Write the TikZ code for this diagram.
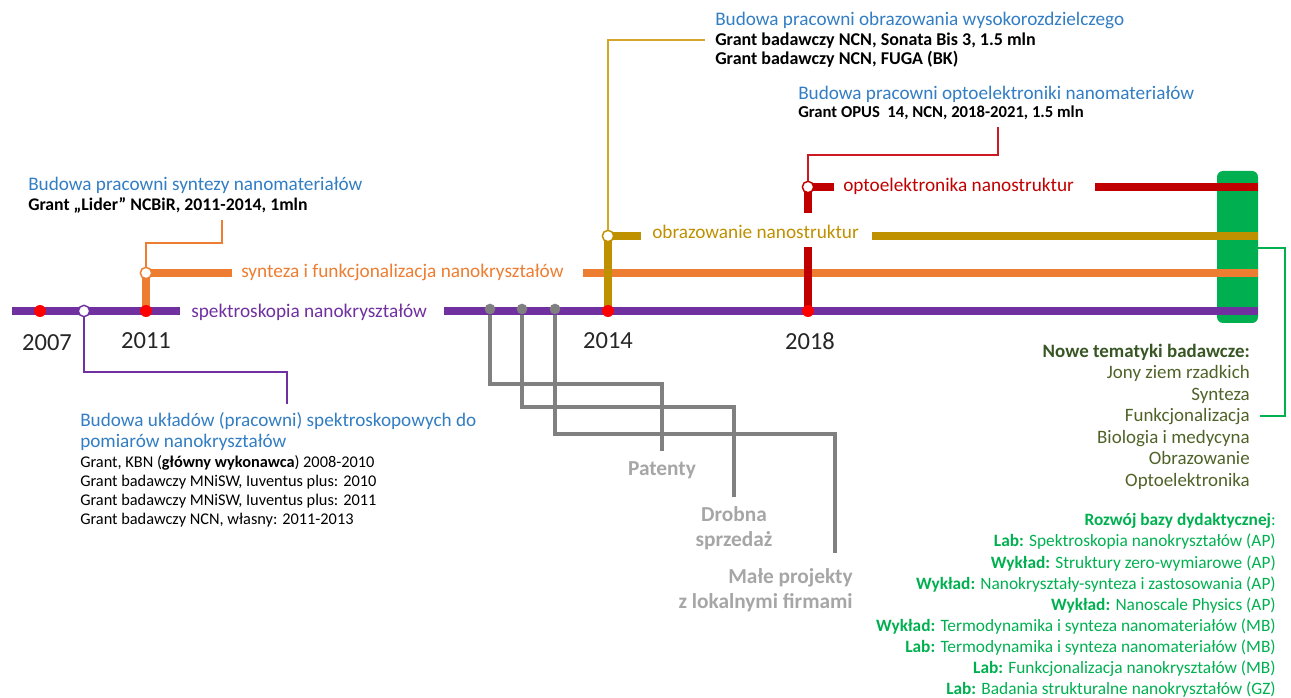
\documentclass[tikz,border=0pt]{standalone}
\usepackage{fontspec}
\setmainfont{Carlito}
\usetikzlibrary{positioning}
\definecolor{cpurple}{RGB}{112,48,160}
\definecolor{corange}{RGB}{237,125,49}
\definecolor{cgold}{RGB}{191,144,0}
\definecolor{cgoldthin}{RGB}{212,165,40}
\definecolor{cred}{RGB}{192,0,0}
\definecolor{credthin}{RGB}{205,25,35}
\definecolor{cdot}{RGB}{255,0,0}
\definecolor{cgreen}{RGB}{0,176,80}
\definecolor{cgray}{RGB}{128,128,128}
\definecolor{cgraytext}{RGB}{166,166,166}
\definecolor{cblue}{RGB}{50,125,195}
\definecolor{colive}{RGB}{79,98,40}
\definecolor{colivedark}{RGB}{55,86,35}
\definecolor{cyear}{RGB}{38,38,38}

\begin{document}
\begin{tikzpicture}[x=0.75pt,y=-0.75pt,
  trunk/.style={line width=6pt,draw=#1},
  link/.style={line width=1.9pt,draw=#1},
  reddot/.style={circle,fill=cdot,inner sep=0pt,minimum size=9pt},
  opendot/.style={circle,draw=#1,fill=white,line width=1.1pt,inner sep=0pt,minimum size=8.5pt},
  graydot/.style={circle,fill=cgray,inner sep=0pt,minimum size=8pt},
  head/.style={inner sep=0pt,anchor=west,text=cblue,font=\fontsize{14.4}{15.75}\selectfont},
  grant/.style={inner sep=0pt,anchor=west,text=black,font=\bfseries\fontsize{#1}{14.25}\selectfont},
  lbl/.style={inner sep=0pt,anchor=west,text=#1,font=\fontsize{14.45}{16}\selectfont},
  year/.style={inner sep=0pt,text=cyear,font=\fontsize{18.4}{22}\selectfont},
  outcome/.style={inner sep=0pt,text=cgraytext,align=center,font=\bfseries\fontsize{16}{18.75}\selectfont}]
\useasboundingbox (0,0) rectangle (1291,698);

\node[fill=cgreen,rounded corners=4.5pt,minimum width=30.75pt,minimum height=114pt,inner sep=0pt] (gbox) at (1237.5,247) {};

\coordinate (s0) at (12,311);
\coordinate (s1) at (180,311);
\coordinate (s2) at (444,311);
\coordinate (s3) at (1258,311);
\coordinate (y0) at (583,273);
\coordinate (y1) at (1258,273);
\coordinate (o0) at (872,236);
\coordinate (o1) at (1258,236);
\coordinate (r0) at (808,247);
\coordinate (r1) at (808,213);
\coordinate (r2) at (1095,187);
\coordinate (r3) at (1258,187);

\draw[trunk=cpurple] (s0) -- (s1);
\draw[trunk=cpurple] (s2) -- (s3);
\draw[trunk=corange] (146,311) -- (146,273) -- (232,273);
\draw[trunk=corange] (y0) -- (y1);
\draw[trunk=cgold] (608,311) -- (608,236) -- (641,236);
\draw[trunk=cgold] (o0) -- (o1);
\draw[trunk=cred] (808,311) -- (r0);
\draw[trunk=cred] (r1) -- (808,187) -- (834,187);
\draw[trunk=cred] (r2) -- (r3);

\node[reddot] (d2007) at (40,311) {};
\node[reddot] (d2011) at (146,311) {};
\node[reddot] (d2014) at (608,311) {};
\node[reddot] (d2018) at (808,311) {};
\node[opendot=cpurple] (nspek) at (84,311) {};
\node[opendot=corange] (nsynt) at (146,273) {};
\node[opendot=cgold] (nobraz) at (608,236) {};
\node[opendot=cred] (nopto) at (808,187) {};
\node[graydot] (g1) at (490,309) {};
\node[graydot] (g2) at (522,309) {};
\node[graydot] (g3) at (555,309) {};

\node[lbl=cpurple] (lspek) at (191,312) {spektroskopia nanokryształów};
\node[lbl=corange] (lsynt) at (241,272) {synteza i funkcjonalizacja nanokryształów};
\node[lbl=cgold] (lobraz) at (652,232) {obrazowanie nanostruktur};
\node[lbl=cred] (lopto) at (843,186) {optoelektronika nanostruktur};

\node[year] (y2007) at (47,343) {2007};
\node[year] (y2011) at (146,341) {2011};
\node[year] (y2014) at (608,341) {2014};
\node[year] (y2018) at (810,341) {2018};

\node[head] (hsynt) at (28,185) {Budowa pracowni syntezy nanomateriałów};
\node[grant=13.3] (gsynt) at (28,205) {Grant „Lider” NCBiR, 2011-2014, 1mln};
\node[head] (hobraz) at (715,20) {Budowa pracowni obrazowania wysokorozdzielczego};
\node[grant=13.5,align=left] (gobraz) at (715,50.5) {Grant badawczy NCN, Sonata Bis 3, 1.5 mln\\Grant badawczy NCN, FUGA (BK)};
\node[head] (hopto) at (798,94) {Budowa pracowni optoelektroniki nanomateriałów};
\node[grant=12.5] (gopto) at (798,113) {Grant OPUS\ \ 14, NCN, 2018-2021, 1.5 mln};
\node[head,align=left] (hspek) at (80,431.5) {Budowa układów (pracowni) spektroskopowych do\\pomiarów nanokryształów};
\node[inner sep=0pt,anchor=west,align=left,text=black,font=\fontsize{12.25}{14.25}\selectfont] (gspek) at (80,491) {Grant, KBN (\textbf{główny wykonawca}) 2008-2010\\Grant badawczy MNiSW, Iuventus plus: 2010\\Grant badawczy MNiSW, Iuventus plus: 2011\\Grant badawczy NCN, własny: 2011-2013};

\node[outcome] (tpat) at (662,470) {Patenty};
\node[outcome] (tdrob) at (734,528) {Drobna\\sprzedaż};
\node[outcome,anchor=east,align=right] (tmale) at (853,590) {Małe projekty\\z lokalnymi firmami};

\node[inner sep=0pt,anchor=east,align=right,text=colive,font=\fontsize{14.2}{16.1}\selectfont] (tnowe) at (1250,416.5) {\textbf{\color{colivedark}Nowe tematyki badawcze:}\\Jony ziem rzadkich\\Synteza\\Funkcjonalizacja\\Biologia i medycyna\\Obrazowanie\\Optoelektronika};
\node[inner sep=0pt,anchor=east,align=right,text=cgreen,font=\fontsize{13}{15.8}\selectfont] (tdyd) at (1276,605.5) {\textbf{Rozwój bazy dydaktycznej}:\\\textbf{Lab:} Spektroskopia nanokryształów (AP)\\\textbf{Wykład:} Struktury zero-wymiarowe (AP)\\\textbf{Wykład:} Nanokryształy-synteza i zastosowania (AP)\\\textbf{Wykład:} Nanoscale Physics (AP)\\\textbf{Wykład:} Termodynamika i synteza nanomateriałów (MB)\\\textbf{Lab:} Termodynamika i synteza nanomateriałów (MB)\\\textbf{Lab:} Funkcjonalizacja nanokryształów (MB)\\\textbf{Lab:} Badania strukturalne nanokryształów (GZ)};

\coordinate (bs1) at (287,372);
\coordinate (es1) at (287,404);
\coordinate (bs2) at (222,243);
\coordinate (es2) at (222,220);
\coordinate (es3) at (705,40);
\coordinate (bs4) at (998,155);
\coordinate (es4) at (998,127);
\coordinate (bg1) at (662,384);
\coordinate (eg1) at (662,451);
\coordinate (bg2) at (734,407);
\coordinate (eg2) at (734,497);
\coordinate (bg3) at (835,434);
\coordinate (eg3) at (835,553);
\coordinate (gb1) at (1285,248);
\coordinate (gb2) at (1260,416);

\draw[link=cpurple] (nspek) |- (bs1) -- (es1);
\draw[link=corange] (nsynt) |- (bs2) -- (es2);
\draw[link=cgoldthin,line width=1.6pt] (nobraz) |- (es3);
\draw[link=credthin,line width=1.4pt] (nopto) |- (bs4) -- (es4);
\draw[link=cgray,line width=2.5pt] (g1) |- (bg1) -- (eg1);
\draw[link=cgray,line width=2.5pt] (g2) |- (bg2) -- (eg2);
\draw[link=cgray,line width=2.5pt] (g3) |- (bg3) -- (eg3);
\draw[link=cgreen,line width=2.2pt] (gbox.east |- gb1) -- (gb1) |- (gb2);
\end{tikzpicture}
\end{document}
